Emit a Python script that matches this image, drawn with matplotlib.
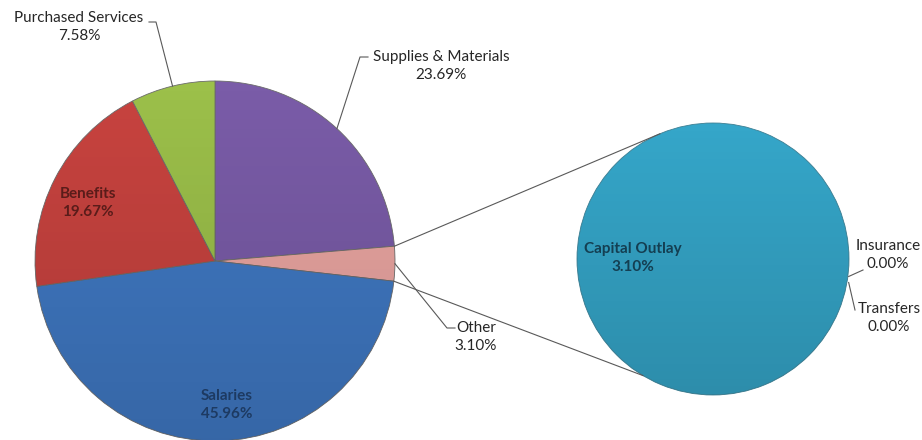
import numpy as np
import matplotlib.pyplot as plt
from matplotlib.patches import Circle

plt.rcParams['font.family'] = ['Lato', 'DejaVu Sans']

# main pie, clockwise from 12 o'clock
labels = ['Supplies & Materials', 'Other', 'Salaries', 'Benefits', 'Purchased Services']
shares = [23.69, 3.10, 45.96, 19.67, 7.58]
colors = ['#7a5ca8', '#eba6a2', '#4079c4', '#c8433f', '#9cc04a']

# breakdown of "Other"
other_labels = ['Capital Outlay', 'Insurance', 'Transfers']
other_shares = [3.10, 0.00, 0.00]
other_colors = ['#35a6c9', '#35a6c9', '#35a6c9']

W, H = 922, 440
fig = plt.figure(figsize=(W / 100, H / 100), dpi=100)
ax = fig.add_axes([0, 0, 1, 1])

main_c, main_r = (215, H - 261), 180
sub_c, sub_r = (713, H - 259), 136

wedges, _ = ax.pie(shares, colors=colors, startangle=90, counterclock=False,
                   center=main_c, radius=main_r,
                   wedgeprops=dict(edgecolor='#6b6b6b', linewidth=0.6),
                   frame=True)
sub_wedges, _ = ax.pie(other_shares, colors=other_colors, startangle=-4,
                       counterclock=False, center=sub_c, radius=sub_r,
                       wedgeprops=dict(edgecolor='#3d7f93', linewidth=0.6),
                       frame=True)
for w in sub_wedges[1:]:
    w.set_linewidth(0)

# soft top-to-bottom shading over both pies
shade = np.zeros((256, 2, 4))
shade[..., 3] = np.linspace(0.0, 0.15, 256)[:, None]
for c, r in [(main_c, main_r), (sub_c, sub_r)]:
    clip = Circle(c, r, transform=ax.transData)
    ax.imshow(shade, extent=[c[0] - r, c[0] + r, c[1] - r, c[1] + r],
              origin='upper', interpolation='bilinear', clip_path=clip,
              zorder=1.5, aspect='auto')

ax.set_xlim(0, W)
ax.set_ylim(0, H)
ax.set_aspect('equal')
ax.axis('off')


def rim(c, r, ang):
    a = np.deg2rad(ang)
    return c[0] + r * np.cos(a), c[1] + r * np.sin(a)


line_kw = dict(color='#595959', lw=0.8, zorder=3)

# connector lines between the "Other" wedge and the second pie
ow = wedges[1]
p_top = rim(main_c, main_r, max(ow.theta1, ow.theta2))
p_bot = rim(main_c, main_r, min(ow.theta1, ow.theta2))
q_top = rim(sub_c, sub_r, 113)
q_bot = rim(sub_c, sub_r, -121)
ax.plot([p_top[0], q_top[0]], [p_top[1], q_top[1]], **line_kw)
ax.plot([p_bot[0], q_bot[0]], [p_bot[1], q_bot[1]], **line_kw)


def mid(w):
    return (w.theta1 + w.theta2) / 2


txt_kw = dict(fontsize=11, color='#262626', ha='center', va='center',
              linespacing=1.35, zorder=4)

# outside labels with leader lines
outside = {
    4: [(156, 22), (149, 22), (79, 27)],
    0: [(360, 57), (368, 57), (441, 66)],
    1: [(447, 328), (455, 328), (476, 337)],
}
for i, (bend, end, pos) in outside.items():
    p = rim(main_c, main_r, mid(wedges[i]))
    ax.plot([p[0], bend[0], end[0]], [p[1], H - bend[1], H - end[1]], **line_kw)
    ax.text(pos[0], H - pos[1], '%s\n%.2f%%' % (labels[i], shares[i]), **txt_kw)

# inside labels
inside = {3: ((88, 203), '#5a1c1a'), 2: ((227, 405), '#1d3a62')}
for i, (pos, col) in inside.items():
    ax.text(pos[0], H - pos[1], '%s\n%.2f%%' % (labels[i], shares[i]),
            fontsize=11, fontweight='bold', color=col, ha='center',
            va='center', linespacing=1.35, zorder=4)

ax.text(633, H - 258, '%s\n%.2f%%' % (other_labels[0], other_shares[0]),
        fontsize=11, fontweight='bold', color='#143f52', ha='center',
        va='center', linespacing=1.35, zorder=4)

# zero-size pieces of the second pie
p = rim(sub_c, sub_r, mid(sub_wedges[1]))
ax.plot([p[0], 863], [p[1] - 8, H - 270], **line_kw)
ax.text(888, H - 255, '%s\n%.2f%%' % (other_labels[1], other_shares[1]), **txt_kw)
ax.plot([p[0], 855], [p[1] - 14, H - 310], **line_kw)
ax.text(889, H - 318, '%s\n%.2f%%' % (other_labels[2], other_shares[2]), **txt_kw)

fig.savefig('out.png', dpi=100)
